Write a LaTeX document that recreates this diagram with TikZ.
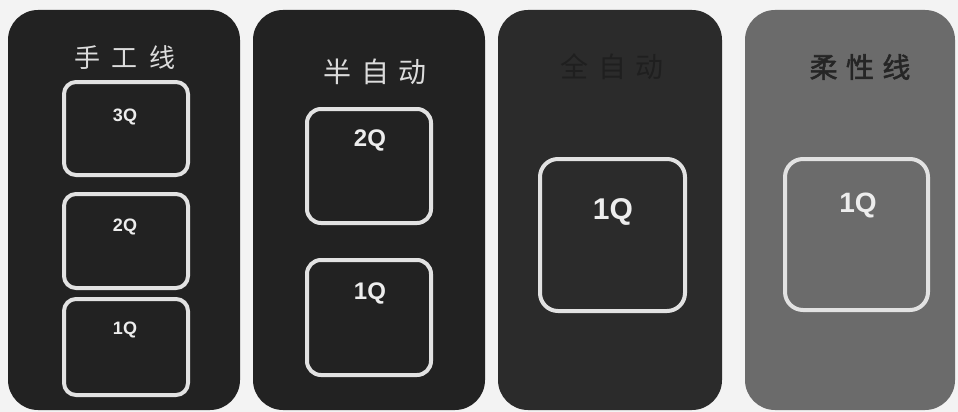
\documentclass[tikz,border=0pt]{standalone}
\usepackage{fontspec}
\setmainfont{Liberation Sans}
\newfontfamily\cjk{Noto Sans CJK SC}
\newfontfamily\cjkbold[FakeBold=2]{Noto Sans CJK SC}
\definecolor{paper}{HTML}{F3F3F3}
\definecolor{darkpanel}{HTML}{222222}
\definecolor{darkpanelb}{HTML}{2B2B2B}
\definecolor{graypanel}{HTML}{6B6B6B}
\definecolor{strokecol}{HTML}{E2E2E2}
\definecolor{titlelight}{HTML}{DCDCDC}
\definecolor{titlehidden}{HTML}{1F1F1F}
\definecolor{titledark}{HTML}{252525}
\newcommand{\fsz}[1]{\fontsize{#1}{#1}\selectfont}
\begin{document}
\begin{tikzpicture}[x=1pt,y=1pt,
  panel/.style={rounded corners=30pt,draw=none,minimum width=#1,minimum height=400pt,inner sep=0pt},
  qbox/.style={draw=strokecol,line width=4pt,rounded corners=12pt,inner sep=0pt},
  qlabel/.style={text=white!93!black,font=\bfseries\fsz{#1}},
  ttl/.style={font=\cjk\fsz{#1}}]
\useasboundingbox[fill=paper] (0,0) rectangle (958,-412);
% panels
\node[panel=232pt,fill=darkpanel] (p1) at (124,-210) {};
\node[panel=232pt,fill=darkpanel] (p2) at (369,-210) {};
\node[panel=224pt,fill=darkpanelb] (p3) at (610,-210) {};
\node[panel=210pt,fill=graypanel] (p4) at (850,-210) {};
% titles
\node[ttl=26pt,text=titlelight] (t1) at (125,-58) {手\hspace{0.45em}工\hspace{0.45em}线};
\node[ttl=28pt,text=titlelight] (t2) at (375,-72) {半\hspace{0.35em}自\hspace{0.35em}动};
\node[ttl=28pt,text=titlehidden] (t3) at (612,-67) {全\hspace{0.35em}自\hspace{0.35em}动};
\node[font=\cjkbold\fsz{28pt},text=titledark] (t4) at (860,-67) {柔\hspace{0.3em}性\hspace{0.3em}线};
% panel 1 boxes
\node[qbox,minimum width=124pt,minimum height=93pt] (b13) at (126,-128.5) {};
\node[qbox,minimum width=124pt,minimum height=94pt] (b12) at (126,-241) {};
\node[qbox,minimum width=124pt,minimum height=96pt] (b11) at (126,-347) {};
\node[qlabel=18pt] (l13) at (125,-117) {3Q};
\node[qlabel=18pt] (l12) at (125,-227) {2Q};
\node[qlabel=18pt] (l11) at (125,-330) {1Q};
% panel 2 boxes
\node[qbox,minimum width=124pt,minimum height=114pt,rounded corners=14pt] (b22) at (369,-166) {};
\node[qbox,minimum width=124pt,minimum height=115pt,rounded corners=14pt] (b21) at (369,-317.5) {};
\node[qlabel=24pt] (l22) at (370,-140) {2Q};
\node[qlabel=24pt] (l21) at (370,-293) {1Q};
% panel 3 box
\node[qbox,minimum width=145pt,minimum height=152pt,rounded corners=18pt] (b31) at (612.5,-235) {};
\node[qlabel=30pt] (l31) at (613,-212) {1Q};
% panel 4 box
\node[qbox,minimum width=143pt,minimum height=151pt,rounded corners=18pt] (b41) at (856.5,-234.5) {};
\node[qlabel=28pt] (l41) at (858,-205) {1Q};
\end{tikzpicture}
\end{document}
